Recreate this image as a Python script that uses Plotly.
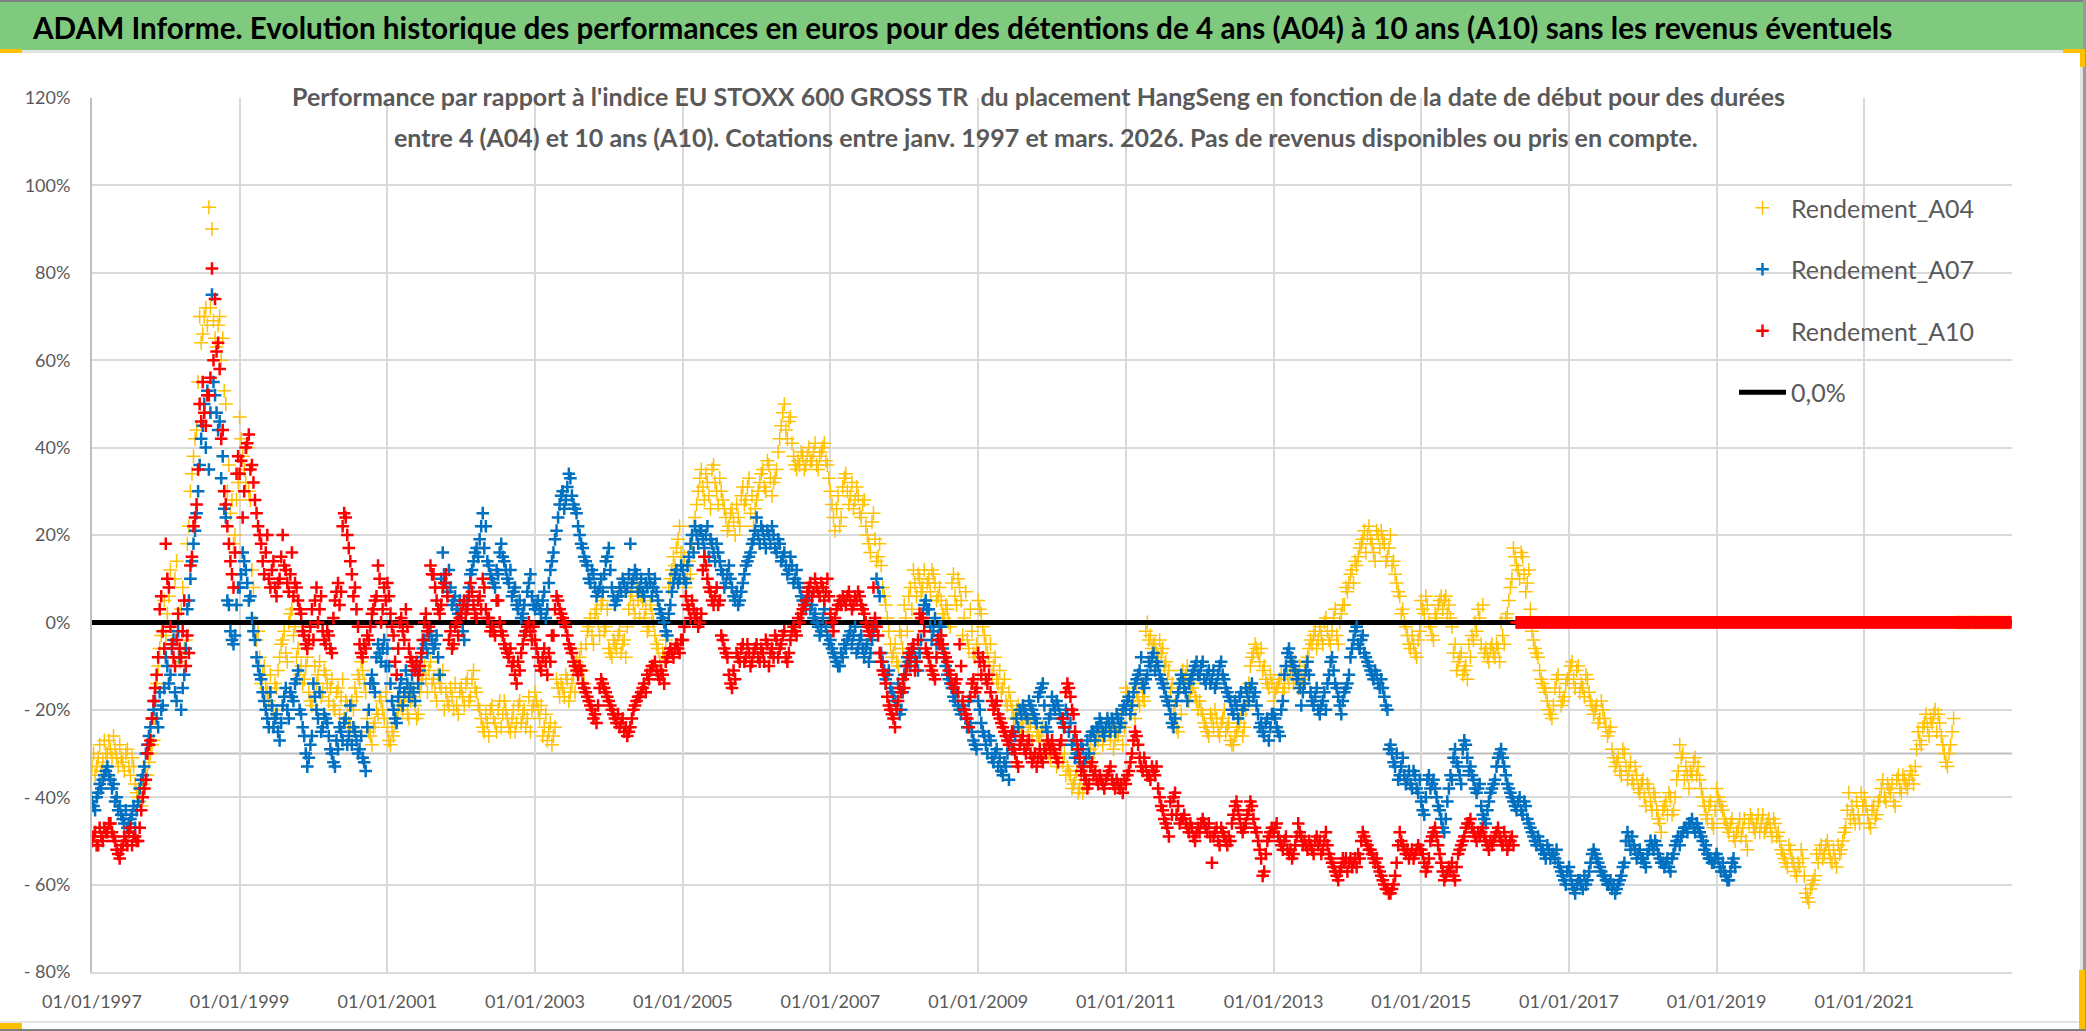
import pandas as pd
import plotly.graph_objects as go

TITLE = "ADAM Informe. Evolution historique des performances en euros pour des détentions de 4 ans (A04) à 10 ans (A10) sans les revenus éventuels"
SUB1 = "Performance par rapport à l'indice EU STOXX 600 GROSS TR  du placement HangSeng en fonction de la date de début pour des durées"
SUB2 = "entre 4 (A04) et 10 ans (A10). Cotations entre janv. 1997 et mars. 2026. Pas de revenus disponibles ou pris en compte."

y_ticks = [120, 100, 80, 60, 40, 20, 0, -20, -40, -60, -80]
y_labels = ["120%", "100%", "80%", "60%", "40%", "20%", "0%", "- 20%", "- 40%", "- 60%", "- 80%"]
x_ticks = ["1997-01-01", "1999-01-01", "2001-01-01", "2003-01-01", "2005-01-01", "2007-01-01", "2009-01-01",
           "2011-01-01", "2013-01-01", "2015-01-01", "2017-01-01", "2019-01-01", "2021-01-01"]
x_labels = ["01/01/1997", "01/01/1999", "01/01/2001", "01/01/2003", "01/01/2005", "01/01/2007", "01/01/2009",
            "01/01/2011", "01/01/2013", "01/01/2015", "01/01/2017", "01/01/2019", "01/01/2021"]

# Half-month readings, one row per year, in percent
A04 = {
 1997: [-33,-35,-31,-34,-27,-30,-29,-26,-31,-28,-32,-30,-33,-31,-37,-40,-42,-38,-35,-30,-27,-14,-6,-2],
 1998: [-3,6,-5,10,-8,3,-6,18,30,38,44,70,66,72,95,90,65,68,60,53,30,25,18,28],
 1999: [47,38,32,30,12,0,-2,-14,-10,-16,-12,-20,-15,-8,-4,-7,0,3,-1,-6,-10,-13,-8,-18],
 2000: [-4,-14,-9,-16,-12,-18,-13,-20,-15,-17,-22,-19,-24,-20,-17,-13,-11,-16,-25,-28,-23,-21,-18,-22],
 2001: [-24,-28,-26,-22,-18,-20,-16,-22,-17,-19,-21,-14,-10,-16,-9,-13,-18,-14,-11,-16,-19,-17,-14,-21],
 2002: [-15,-19,-13,-17,-11,-16,-20,-24,-21,-26,-19,-23,-20,-24,-18,-22,-25,-20,-23,-18,-21,-24,-17,-20],
 2003: [-16,-20,-19,-24,-27,-23,-26,-13,-17,-15,-12,-18,-14,-16,-10,-6,-14,-2,1,-5,3,-3,5,-1],
 2004: [-6,-8,-5,-3,-7,-4,-1,6,4,8,1,5,3,-1,2,-3,-6,-11,-8,-3,10,15,17,22],
 2005: [12,8,14,18,24,30,35,28,32,26,36,30,33,28,24,22,26,20,24,29,27,31,25,22],
 2006: [28,32,35,30,36,29,33,39,45,50,42,47,38,35,36,38,36,40,37,41,35,39,41,36],
 2007: [30,24,26,22,31,34,27,32,28,29,24,28,20,16,25,14,18,8,4,-2,-8,-5,-10,-3],
 2008: [4,-2,8,12,6,10,8,5,10,12,9,6,5,1,3,-1,11,4,8,-3,7,-6,-2,-8],
 2009: [5,2,-3,-7,-5,-10,-13,-11,-15,-18,-16,-20,-22,-19,-24,-21,-26,-23,-21,-25,-27,-24,-28,-30],
 2010: [-27,-30,-32,-28,-30,-33,-35,-37,-34,-38,-39,-36,-31,-33,-28,-27,-24,-26,-22,-27,-29,-25,-23,-28],
 2011: [-15,-17,-19,-22,-18,-14,-18,0,-3,-5,-7,-4,-6,-9,-11,-14,-19,-25,-21,-13,-10,-16,-14,-18],
 2012: [-18,-21,-24,-26,-22,-20,-25,-23,-20,-24,-27,-28,-25,-23,-26,-20,-14,-8,-5,-7,-6,-10,-14,-12],
 2013: [-18,-15,-13,-16,-10,-14,-12,-9,-15,-13,-11,-8,-4,-3,-6,-1,-5,1,-4,-2,3,-5,2,4],
 2014: [7,11,9,13,17,19,16,22,18,14,20,21,18,15,20,14,9,6,3,-1,-5,-3,-7,-4],
 2015: [5,2,4,-1,-4,1,5,3,6,4,-1,-5,-9,-7,-11,-13,-8,-4,-2,1,4,-6,-9,-5],
 2016: [-8,-6,0,-5,2,8,17,13,10,15,7,12,-2,-6,-8,-13,-15,-18,-21,-19,-13,-16,-18,-14],
 2017: [-12,-9,-15,-10,-14,-17,-13,-18,-21,-19,-22,-20,-24,-25,-29,-33,-31,-35,-30,-36,-32,-37,-35,-39],
 2018: [-36,-42,-38,-43,-40,-45,-48,-42,-44,-40,-43,-36,-28,-30,-33,-38,-35,-31,-33,-38,-42,-45,-41,-47],
 2019: [-38,-41,-43,-46,-48,-45,-50,-47,-49,-45,-52,-44,-47,-46,-48,-44,-47,-45,-49,-46,-48,-52,-54,-56],
 2020: [-52,-55,-58,-56,-54,-62,-64,-60,-58,-55,-51,-53,-50,-54,-52,-56,-53,-50,-47,-39,-42,-46,-44,-39],
 2021: [-40,-44,-47,-42,-44,-40,-36,-41,-38,-37,-42,-35,-39,-36,-38,-34,-37,-29,-27,-24,-21,-26,-23,-20],
 2022: [-21,-26,-30,-33,-28,-22,0,0,0,0,0,0,0,0,0,0,0,0,0,0,0,0,0,0],
}
# Second reading, a quarter of a month later
A04_mid = {
 1997: [-30,-33,-28,-32,-30,-27,-31,-29,-33,-31,-34,-29,-35,-33,-39,-41,-37,-35,-32,-28,-22,-10,-3,5],
 1998: [2,12,-2,14,-9,8,-4,22,34,42,55,64,70,68,72,69,63,70,65,50,36,28,20,32],
 1999: [42,35,40,28,8,-4,-8,-12,-15,-18,-20,-14,-11,-5,-2,-9,2,-3,-8,-12,-14,-10,-16,-19],
 2000: [-10,-12,-17,-11,-14,-15,-19,-16,-21,-13,-18,-23,-18,-15,-12,-9,-14,-22,-26,-24,-20,-17,-20,-16],
 2001: [-27,-25,-23,-20,-19,-17,-21,-18,-15,-22,-16,-12,-13,-11,-14,-16,-12,-15,-20,-18,-15,-20,-19,-16],
 2002: [-17,-14,-18,-13,-15,-19,-22,-25,-23,-20,-22,-25,-18,-21,-20,-24,-22,-25,-19,-23,-20,-22,-25,-19],
 2003: [-18,-22,-26,-21,-25,-28,-24,-15,-14,-17,-13,-16,-12,-9,-8,-11,-5,-1,-3,2,0,4,-2,3],
 2004: [-7,-4,-6,-2,-5,-8,3,7,2,5,6,1,-2,4,0,-5,-9,-7,-4,8,12,13,19,16],
 2005: [15,10,11,22,27,33,31,34,29,35,32,27,30,26,21,25,23,27,22,31,28,33,29,26],
 2006: [30,34,31,37,33,32,35,42,48,44,46,41,36,37,39,35,38,37,39,36,38,40,37,33],
 2007: [27,21,29,24,33,30,29,26,31,25,27,22,18,23,19,15,13,6,1,-5,-7,-9,-2,-6],
 2008: [1,6,3,9,11,7,12,9,7,11,5,8,2,4,0,9,6,10,5,1,-4,3,-7,-5],
 2009: [3,-1,-5,-9,-12,-8,-14,-16,-13,-19,-18,-22,-20,-25,-23,-22,-24,-27,-23,-26,-25,-29,-27,-31],
 2010: [-29,-33,-30,-32,-35,-34,-38,-36,-39,-35,-37,-32,-29,-30,-26,-25,-28,-24,-25,-23,-27,-26,-21,-24],
 2011: [-16,-20,-18,-16,-19,-17,-2,-4,-6,-5,-8,-7,-10,-13,-16,-21,-24,-15,-11,-12,-18,-15,-17,-20],
 2012: [-20,-23,-25,-21,-24,-22,-26,-22,-25,-23,-28,-26,-24,-21,-24,-17,-10,-7,-6,-9,-11,-13,-15,-14],
 2013: [-16,-14,-12,-15,-12,-11,-14,-12,-10,-14,-9,-6,-5,-2,-4,-3,0,-2,-5,1,-3,0,4,8],
 2014: [9,12,14,15,18,21,20,19,16,21,17,19,14,17,13,11,7,2,0,-3,-6,-5,-8,-2],
 2015: [3,6,0,-3,2,4,6,5,2,1,-7,-11,-8,-12,-10,-5,-3,0,3,-5,-7,-8,-6,-7],
 2016: [-5,-9,-3,1,5,10,15,12,16,11,9,3,-4,-7,-11,-14,-16,-20,-22,-15,-12,-19,-17,-13],
 2017: [-10,-13,-11,-16,-15,-12,-16,-19,-20,-23,-18,-22,-26,-24,-31,-32,-34,-29,-33,-34,-36,-33,-38,-37],
 2018: [-40,-37,-41,-39,-43,-46,-43,-41,-39,-44,-40,-34,-31,-36,-35,-34,-32,-35,-36,-40,-44,-42,-46,-43],
 2019: [-40,-42,-45,-47,-46,-49,-48,-45,-47,-50,-46,-45,-48,-44,-46,-48,-46,-47,-45,-49,-50,-53,-55,-51],
 2020: [-54,-57,-55,-52,-58,-63,-61,-59,-53,-52,-54,-51,-52,-55,-54,-51,-52,-48,-43,-45,-44,-41,-46,-42],
 2021: [-42,-46,-43,-45,-41,-38,-40,-37,-39,-41,-36,-38,-35,-37,-36,-35,-33,-25,-28,-23,-24,-22,-21,-25],
 2022: [-23,-28,-32,-30,-25],
}
A07 = {
 1997: [-41,-43,-39,-38,-35,-33,-36,-37,-40,-42,-45,-43,-46,-44,-47,-41,-36,-33,-28,-24,-20,-22,-16,-19],
 1998: [-8,-14,-6,-16,-2,-20,-12,3,10,18,25,36,45,40,35,75,52,44,33,26,5,-2,-5,4],
 1999: [8,16,12,5,1,-4,-10,-13,-18,-22,-16,-24,-21,-27,-19,-15,-22,-17,-14,-11,-21,-26,-33,-28],
 2000: [-14,-20,-16,-24,-22,-26,-30,-33,-29,-25,-23,-28,-19,-24,-27,-29,-31,-34,-20,-12,-16,-5,-9,-4],
 2001: [-6,-14,-20,-23,-15,-19,-11,-17,-12,-18,-14,-8,-4,-7,-2,-6,-3,-12,16,9,12,4,6,2],
 2002: [2,-4,5,11,14,17,19,25,22,13,10,8,11,18,14,10,12,7,4,5,2,-2,9,6],
 2003: [3,5,2,7,3,12,16,21,27,30,28,34,29,26,22,18,15,13,9,11,6,8,7,14],
 2004: [17,8,4,6,7,9,8,18,10,11,8,7,9,11,6,10,5,2,0,-3,4,9,12,10],
 2005: [12,9,15,20,22,18,21,17,22,19,16,18,14,11,9,13,8,5,4,7,11,14,16,19],
 2006: [24,18,21,17,20,22,17,19,14,16,11,15,9,12,8,5,3,6,4,2,-1,-2,3,-3],
 2007: [-4,-7,-9,-10,-8,-6,-3,-5,-1,-6,-3,-8,-5,-7,-2,10,6,-9,-13,-11,-16,-18,-14,-20],
 2008: [-12,-8,-10,-6,-9,-7,2,5,3,-4,1,-3,-1,-8,-12,-14,-17,-16,-20,-19,-22,-18,-25,-28],
 2009: [-18,-23,-26,-30,-27,-32,-29,-31,-35,-33,-36,-29,-26,-24,-21,-20,-22,-19,-21,-23,-16,-14,-24,-22],
 2010: [-17,-20,-19,-22,-24,-21,-23,-27,-30,-32,-29,-31,-30,-25,-27,-24,-23,-26,-22,-25,-23,-21,-24,-20],
 2011: [-20,-17,-19,-14,-12,-8,-15,-12,-10,-7,-9,-12,-14,-17,-19,-23,-22,-16,-12,-15,-18,-13,-11,-9],
 2012: [-12,-9,-14,-11,-13,-15,-12,-9,-13,-16,-18,-21,-19,-17,-20,-15,-18,-14,-16,-21,-23,-26,-22,-24],
 2013: [-21,-24,-26,-18,-10,-6,-9,-11,-12,-19,-14,-9,-16,-19,-15,-21,-18,-20,-12,-8,-14,-17,-21,-16],
 2014: [-14,-8,-4,-1,-6,-3,-8,-10,-12,-11,-14,-13,-17,-20,-28,-32,-30,-35,-31,-37,-34,-38,-35,-39],
 2015: [-41,-44,-36,-38,-36,-40,-43,-47,-45,-38,-36,-29,-33,-37,-27,-31,-33,-36,-39,-37,-44,-46,-41,-38],
 2016: [-36,-31,-29,-33,-37,-39,-41,-43,-40,-44,-42,-46,-48,-50,-49,-52,-53,-51,-54,-53,-52,-56,-58,-60],
 2017: [-56,-60,-62,-59,-60,-58,-59,-55,-52,-54,-56,-58,-59,-60,-61,-62,-60,-58,-55,-48,-52,-51,-54,-52],
 2018: [-54,-56,-52,-51,-50,-53,-55,-56,-54,-57,-53,-50,-51,-48,-47,-46,-45,-48,-47,-49,-52,-53,-54,-55],
 2019: [-53,-56,-55,-58,-59,-55,-56],
}
A07_mid = {
 1997: [-42,-40,-37,-36,-34,-35,-38,-41,-43,-44,-46,-47,-45,-42,-43,-38,-35,-30,-26,-22,-18,-24,-20,-15],
 1998: [-10,-12,-4,-18,-8,-15,-6,5,14,21,30,42,50,53,48,55,48,46,38,24,4,-4,-3,8],
 1999: [11,14,9,6,-2,-8,-12,-16,-20,-24,-19,-22,-25,-23,-17,-20,-16,-18,-13,-20,-24,-30,-31,-26],
 2000: [-17,-22,-25,-21,-23,-29,-32,-27,-24,-27,-22,-26,-28,-25,-30,-26,-32,-24,-14,-14,-8,-7,-6,-10],
 2001: [-10,-18,-22,-17,-13,-16,-14,-15,-16,-10,-11,-6,-5,-3,-4,-5,-8,10,11,7,8,5,3,5],
 2002: [-2,3,8,12,16,15,22,17,14,11,9,12,16,15,12,9,6,8,3,1,4,7,11,4],
 2003: [4,3,5,1,9,14,19,24,29,26,31,33,27,25,20,17,14,10,12,8,7,10,11,15],
 2004: [12,6,5,8,10,7,11,9,12,7,10,6,8,9,8,7,3,1,-2,2,7,11,9,13],
 2005: [10,13,18,16,20,21,19,20,15,18,14,16,12,8,11,10,6,7,5,9,13,15,18,21],
 2006: [20,22,19,21,18,20,16,18,15,13,12,13,10,9,6,4,5,3,1,0,-3,1,-1,-5],
 2007: [-6,-8,-10,-7,-5,-4,-2,-3,-7,-4,-6,-6,-9,-4,-1,8,-7,-11,-12,-15,-17,-19,-21,-16],
 2008: [-10,-9,-7,-8,-11,-4,4,3,-1,-2,-5,-1,-6,-10,-13,-15,-18,-19,-21,-20,-24,-23,-27,-29],
 2009: [-20,-25,-28,-26,-31,-30,-33,-34,-32,-30,-27,-25,-22,-20,-19,-21,-18,-20,-22,-17,-15,-19,-25,-21],
 2010: [-19,-18,-21,-23,-20,-25,-28,-31,-30,-28,-32,-27,-26,-25,-24,-22,-25,-24,-23,-22,-25,-22,-23,-19],
 2011: [-18,-21,-16,-13,-11,-14,-13,-9,-8,-11,-10,-13,-15,-18,-21,-24,-18,-14,-13,-16,-14,-12,-10,-12],
 2012: [-10,-13,-12,-14,-11,-14,-10,-12,-15,-17,-20,-18,-22,-16,-19,-16,-15,-17,-19,-24,-25,-23,-27,-21],
 2013: [-22,-25,-20,-12,-7,-8,-10,-13,-15,-16,-11,-12,-18,-17,-20,-19,-16,-14,-9,-11,-15,-19,-18,-15],
 2014: [-12,-6,-2,-5,-4,-7,-9,-11,-13,-12,-15,-15,-19,-29,-30,-33,-36,-33,-35,-36,-37,-34,-38,-36],
 2015: [-43,-40,-35,-37,-38,-42,-45,-48,-41,-35,-31,-32,-35,-29,-28,-34,-35,-38,-38,-42,-45,-43,-39,-37],
 2016: [-33,-30,-31,-35,-38,-40,-42,-41,-43,-41,-45,-47,-49,-51,-50,-52,-54,-52,-53,-54,-55,-57,-59,-57],
 2017: [-58,-61,-60,-59,-61,-60,-57,-53,-53,-55,-57,-58,-60,-59,-60,-61,-59,-56,-50,-50,-49,-52,-53,-54],
 2018: [-55,-53,-50,-52,-51,-54,-55,-55,-56,-54,-51,-49,-49,-47,-48,-46,-47,-46,-48,-50,-51,-54,-55,-54],
 2019: [-54,-57,-57,-59,-57,-54],
}
A10 = {
 1997: [-50,-48,-51,-49,-47,-48,-46,-49,-52,-54,-51,-50,-48,-51,-49,-50,-43,-38,-30,-27,-18,-12,3,-2],
 1998: [18,8,-5,-10,2,-8,5,-3,13,22,27,50,55,45,52,81,74,64,42,30,22,14,8,34],
 1999: [34,24,40,43,36,28,22,18,11,20,8,14,6,10,20,12,7,16,9,5,2,-3,-6,-1],
 2000: [-4,8,3,-2,-5,-3,-7,5,9,7,25,20,14,6,3,-5,-8,-6,-4,2,5,13,0,8],
 2001: [9,2,-3,-12,0,-2,3,-6,-9,-11,-12,-7,0,-2,13,11,5,2,8,11,-4,-6,-1,-3],
 2002: [2,5,3,9,4,1,6,10,3,1,-1,-3,5,-2,-5,-7,-6,-9,-14,-11,-5,-2,0,-4],
 2003: [-4,-8,-11,-6,-12,-9,-3,6,3,1,-1,-5,-7,-10,-12,-11,-15,-17,-19,-22,-23,-15,-14,-16],
 2004: [-18,-20,-22,-21,-23,-25,-26,-24,-20,-18,-17,-15,-16,-13,-10,-9,-12,-11,-14,-8,-6,-8,-5,-7],
 2005: [-4,6,3,5,1,-1,2,15,10,7,4,8,5,-4,-7,-12,-15,-13,-8,-6,-9,-5,-10,-7],
 2006: [-5,-9,-7,-4,-10,-6,-3,-8,-5,-2,-9,-4,-1,-3,0,3,5,8,6,10,7,9,5,10],
 2007: [2,-2,3,5,6,4,7,3,6,7,4,2,-1,-3,8,-1,-7,-11,-14,-19,-21,-24,-18,-16],
 2008: [-15,-10,-8,-5,-9,2,1,-6,-8,-11,-13,-4,-3,-7,-9,-12,-15,-13,-5,-18,-21,-24,-14,-16],
 2009: [-7,-12,-10,-14,-16,-20,-18,-22,-24,-26,-28,-25,-30,-33,-27,-29,-28,-30,-31,-33,-29,-32,-30,-28],
 2010: [-27,-30,-32,-27,-24,-14,-17,-21,-27,-31,-33,-36,-37,-32,-34,-37,-36,-38,-35,-33,-37,-36,-38,-39],
 2011: [-37,-34,-30,-25,-28,-33,-31,-35,-36,-34,-33,-40,-43,-46,-49,-44,-39,-42,-45,-44,-47,-46,-49,-48],
 2012: [-48,-45,-47,-46,-55,-48,-50,-47,-49,-51,-50,-44,-41,-45,-48,-46,-43,-42,-47,-50,-54,-57,-50,-48],
 2013: [-48,-46,-50,-52,-49,-53,-54,-51,-46,-49,-50,-52,-51,-53,-49,-50,-52,-48,-53,-55,-57,-59,-56,-55],
 2014: [-57,-54,-55,-56,-54,-48,-50,-52,-53,-55,-56,-58,-60,-61,-62,-60,-55,-48,-51,-53,-54,-52,-53,-51],
 2015: [-52,-55,-56,-50,-48,-49,-53,-57,-58,-56,-55,-59,-53,-51,-49,-46,-45,-48,-50,-49,-47,-50,-52,-51],
 2016: [-49,-47,-50,-48,-52,-50,-51],
}
A10_mid = {
 1997: [-49,-51,-47,-50,-48,-46,-48,-50,-53,-52,-49,-51,-47,-49,-50,-47,-40,-36,-28,-22,-15,-8,6,-6],
 1998: [10,-1,-8,-4,-6,-2,-10,-7,15,24,35,46,48,52,56,60,62,58,44,27,18,11,16,38],
 1999: [37,30,41,35,32,25,20,14,16,10,12,8,9,15,13,9,11,6,8,3,-2,-5,-4,3],
 2000: [5,0,6,-4,-2,-6,1,7,4,22,24,17,11,8,-1,-7,-5,-3,-1,3,6,10,3,5],
 2001: [6,-1,-9,-6,1,-4,-1,-8,-10,-9,-10,-4,2,-1,11,8,3,4,9,6,-2,-5,0,1],
 2002: [4,2,6,7,2,5,3,8,1,-2,-2,5,0,-3,-6,-8,-10,-12,-9,-7,-3,-1,-2,-1],
 2003: [-6,-10,-8,-9,-7,-3,3,5,2,0,-3,-6,-9,-11,-10,-14,-16,-18,-20,-21,-19,-13,-15,-17],
 2004: [-19,-21,-23,-24,-22,-24,-25,-22,-19,-17,-16,-14,-12,-11,-10,-11,-13,-12,-9,-7,-7,-6,-6,-4],
 2005: [-1,4,1,3,2,0,12,13,8,5,6,4,-3,-6,-8,-14,-11,-7,-9,-5,-8,-7,-9,-6],
 2006: [-8,-6,-9,-5,-7,-8,-4,-6,-3,-8,-7,-2,-2,1,2,4,7,9,7,8,6,8,7,6],
 2007: [0,1,4,4,5,6,5,4,5,6,3,0,-2,-1,1,-3,-9,-12,-17,-20,-22,-20,-15,-13],
 2008: [-12,-7,-6,-11,-4,1,-2,-7,-10,-12,-8,-5,-5,-8,-11,-14,-14,-16,-10,-20,-22,-17,-13,-15],
 2009: [-9,-8,-13,-12,-18,-19,-21,-23,-25,-27,-26,-29,-32,-28,-26,-30,-27,-32,-30,-31,-31,-29,-27,-29],
 2010: [-29,-31,-28,-22,-16,-15,-20,-25,-29,-34,-35,-38,-33,-35,-36,-35,-37,-36,-34,-36,-38,-37,-37,-36],
 2011: [-35,-32,-27,-26,-31,-34,-33,-35,-33,-35,-38,-42,-45,-47,-41,-40,-44,-46,-45,-46,-48,-47,-50,-47],
 2012: [-46,-46,-48,-49,-49,-47,-51,-48,-50,-49,-46,-42,-43,-47,-47,-44,-41,-45,-48,-52,-58,-53,-49,-47],
 2013: [-47,-49,-51,-50,-52,-52,-53,-49,-48,-51,-51,-50,-52,-50,-51,-53,-50,-51,-54,-56,-58,-57,-54,-54],
 2014: [-55,-56,-54,-53,-50,-49,-51,-52,-54,-54,-57,-59,-61,-62,-61,-58,-51,-50,-52,-52,-53,-54,-52,-52],
 2015: [-53,-57,-54,-49,-47,-51,-55,-59,-57,-57,-58,-56,-52,-50,-47,-46,-47,-49,-48,-48,-49,-51,-50,-50],
 2016: [-48,-49,-51,-50,-51,-49],
}
# After the last available start date A10 sits on zero
ZERO_YEARS_A10 = {2016: [0] * 17, 2017: [0] * 24, 2018: [0] * 24, 2019: [0] * 24, 2020: [0] * 24, 2021: [0] * 24, 2022: [0] * 24}
LINE_X = ["1997-01-01", "2023-01-01"]
LINE_Y = [0, 0]


def expand(rows, offset=0.0, align_end=None):
    xs, ys = [], []
    for year, vals in rows.items():
        start = 24 - len(vals) if align_end == year else 0
        for i, v in enumerate(vals):
            xs.append(pd.Timestamp(year, 1, 1) + pd.Timedelta(days=(i + start + offset) * 365.25 / 24))
            ys.append(v)
    return xs, ys


def merged(*parts):
    pts = sorted(zip(*[sum((p[k] for p in parts), []) for k in (0, 1)]), key=lambda t: t[0])
    return [p[0] for p in pts], [p[1] for p in pts]


a04x, a04y = merged(expand(A04), expand(A04_mid, 0.5))
a07x, a07y = merged(expand(A07), expand(A07_mid, 0.5))
a10x, a10y = merged(expand(A10), expand(A10_mid, 0.5),
                    expand(ZERO_YEARS_A10, 0.0, 2016), expand(ZERO_YEARS_A10, 0.5, 2016))

GRID = "#d9d9d9"
TXT = "#595959"
FONT = "Lato"
fig = go.Figure()
fig.add_trace(go.Scatter(x=a04x, y=a04y, mode="markers", name="Rendement_A04", legendrank=1, legendgroup="a",
                         marker=dict(symbol="cross-thin", size=10, color="#FFC000", line=dict(color="#FFC000", width=1.5))))
fig.add_trace(go.Scatter(x=LINE_X, y=LINE_Y, mode="lines", name="0,0%", legendrank=4, legendgroup="d",
                         line=dict(color="#000000", width=5)))
fig.add_trace(go.Scatter(x=a07x, y=a07y, mode="markers", name="Rendement_A07", legendrank=2, legendgroup="b",
                         marker=dict(symbol="cross-thin", size=9, color="#0070C0", line=dict(color="#0070C0", width=2.5))))
fig.add_trace(go.Scatter(x=a10x, y=a10y, mode="markers", name="Rendement_A10", legendrank=3, legendgroup="c",
                         marker=dict(symbol="cross-thin", size=9, color="#FF0000", line=dict(color="#FF0000", width=2.5))))


def prect(x0, y0, x1, y1, fill, layer="above"):
    return dict(type="rect", xref="paper", yref="paper", layer=layer,
                x0=(x0 - 92) / 1920, x1=(x1 - 92) / 1920,
                y0=(972 - y0) / 874, y1=(972 - y1) / 874,
                fillcolor=fill, line=dict(width=0))


shapes = [
    dict(type="line", xref="paper", yref="y", x0=0, x1=1, y0=-30, y1=-30, layer="below",
         line=dict(color="#bfbfbf", width=2)),
    prect(285, 78, 1795, 158, "#ffffff", "between"),
    prect(1702, 180, 2015, 420, "#ffffff", "between"),
    prect(0, 2, 2083, 50, "#7FCA7F", "below"),
    prect(0, 0, 2086, 2, "#808080", "below"),
    prect(0, 50, 2080, 53, "#e3e3e3", "below"),
    prect(2080, 50, 2083, 1024, "#e3e3e3", "below"),
    prect(2083, 0, 2086, 1031, "#9a9a9a", "below"),
    prect(0, 1021, 2083, 1023, "#e3e3e3", "below"),
    prect(0, 1029, 2086, 1031, "#808080", "below"),
    prect(0, 49, 22, 53, "#FFC000", "below"),
    prect(2063, 49, 2085, 53, "#FFC000", "below"),
    prect(2080, 49, 2085, 67, "#FFC000", "below"),
    prect(0, 1023, 22, 1029, "#FFC000", "below"),
    prect(2079, 970, 2085, 1029, "#FFC000", "below"),
]

fig.update_layout(
    width=2086, height=1031, autosize=False,
    margin=dict(l=92, r=74, t=98, b=59),
    paper_bgcolor="#ffffff", plot_bgcolor="#ffffff",
    font=dict(family=FONT, color=TXT, size=18),
    title=dict(text=TITLE, x=33 / 2086, xanchor="left", y=1 - 29 / 1031, yanchor="middle",
               font=dict(family=FONT, size=29.7, color="#000000", weight="bold")),
    xaxis=dict(type="date", range=["1997-01-01", "2023-01-01"], tickvals=x_ticks, ticktext=x_labels,
               showgrid=True, gridcolor=GRID, gridwidth=2, zeroline=False, showline=True, linecolor=GRID, linewidth=2,
               ticks="outside", ticklen=12, tickcolor="rgba(0,0,0,0)", tickfont=dict(size=18, color=TXT)),
    yaxis=dict(range=[-80, 120], tickvals=y_ticks, ticktext=y_labels, showgrid=True, gridcolor=GRID, gridwidth=2,
               zeroline=False, showline=True, linecolor="#bfbfbf", linewidth=2,
               ticks="outside", ticklen=16, tickcolor="rgba(0,0,0,0)", tickfont=dict(size=18, color=TXT)),
    legend=dict(x=(1734 - 92) / 1920, xanchor="left", y=(972 - 185) / 874, yanchor="top", bgcolor="rgba(0,0,0,0)",
                font=dict(size=25, color=TXT, family=FONT), itemwidth=47, tracegroupgap=26),
    shapes=shapes,
    annotations=[
        dict(text=SUB1, xref="paper", yref="paper", x=(1038 - 92) / 1920, y=(972 - 96) / 874, xanchor="center",
             yanchor="middle", showarrow=False, font=dict(size=25, color=TXT, family=FONT, weight="bold")),
        dict(text=SUB2, xref="paper", yref="paper", x=(1046 - 92) / 1920, y=(972 - 137) / 874, xanchor="center",
             yanchor="middle", showarrow=False, font=dict(size=25, color=TXT, family=FONT, weight="bold")),
    ],
)

fig.write_html("out.html", config=dict(displayModeBar=False),
               post_script="document.body.style.margin='0';document.body.style.overflow='hidden';")
